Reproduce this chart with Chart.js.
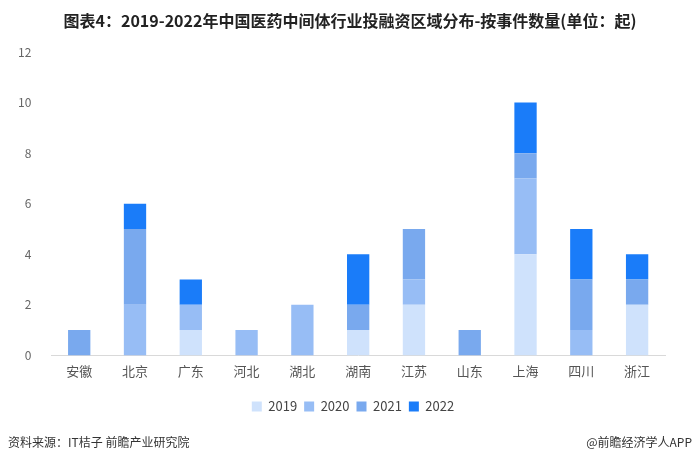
<!DOCTYPE html>
<html>
<head>
<meta charset="utf-8">
<script src="https://cdn.jsdelivr.net/npm/chart.js@4"></script>
<style>
  body { margin: 0; background: #fff; }
  #wrap { position: relative; width: 700px; height: 460px; }
  .title { position: absolute; top: 8px; left: 0; width: 700px; text-align: center; font-family: "Noto Sans CJK SC", sans-serif; font-size: 16px; font-weight: bold; color: #222; }
  .foot { position: absolute; top: 433px; font-family: "Noto Sans CJK SC", sans-serif; font-size: 12px; color: #333; }
</style>
</head>
<body>
<div id="wrap">
  <canvas id="chart" width="700" height="460"></canvas>
  <div class="title">图表4：2019-2022年中国医药中间体行业投融资区域分布-按事件数量(单位：起)</div>
  <div class="foot" style="left:8px">资料来源：IT桔子 前瞻产业研究院</div>
  <div class="foot" style="right:8px">@前瞻经济学人APP</div>
</div>
<script>
const regions = ['安徽', '北京', '广东', '河北', '湖北', '湖南', '江苏', '山东', '上海', '四川', '浙江'];
const y2019 = [0, 0, 1, 0, 0, 1, 2, 0, 4, 0, 2];
const y2020 = [0, 2, 1, 1, 2, 0, 1, 0, 3, 1, 0];
const y2021 = [1, 3, 0, 0, 0, 1, 2, 1, 1, 2, 1];
const y2022 = [0, 1, 1, 0, 0, 2, 0, 0, 2, 2, 1];

const font = '"Noto Sans CJK SC", "Noto Sans", sans-serif';

const ds = (label, data, color) => ({
  label: label,
  data: data,
  backgroundColor: color,
  barPercentage: 0.8,
  categoryPercentage: 0.5
});

new Chart(document.getElementById('chart'), {
  type: 'bar',
  data: {
    labels: regions,
    datasets: [
      ds('2019', y2019, '#cfe2fc'),
      ds('2020', y2020, '#97bdf5'),
      ds('2021', y2021, '#79a9ee'),
      ds('2022', y2022, '#1a7cf9')
    ]
  },
  options: {
    responsive: false,
    animation: false,
    layout: { padding: { top: 52, left: 6, right: 0, bottom: 37 } },
    plugins: {
      legend: {
        position: 'bottom',
        labels: {
          color: '#444',
          boxWidth: 10,
          boxHeight: 10,
          padding: 7,
          font: { family: font, size: 13 }
        }
      },
      tooltip: { enabled: false }
    },
    scales: {
      x: {
        stacked: true,
        grid: { display: false },
        border: { color: '#d9d9d9' },
        ticks: { color: '#555', font: { family: font, size: 13 }, padding: 0 },
        afterFit: (scale) => { scale.height += 14; }
      },
      y: {
        stacked: true,
        min: 0,
        max: 12,
        grid: { display: false },
        border: { display: false },
        ticks: { stepSize: 2, color: '#666', font: { family: font, size: 12 }, padding: 12 }
      },
      // empty right gutter so the legend centres on the page
      yRight: {
        position: 'right',
        grid: { display: false },
        border: { display: false },
        ticks: { display: false },
        afterFit: (scale) => { scale.width = 35; }
      }
    }
  }
});
</script>
</body>
</html>
